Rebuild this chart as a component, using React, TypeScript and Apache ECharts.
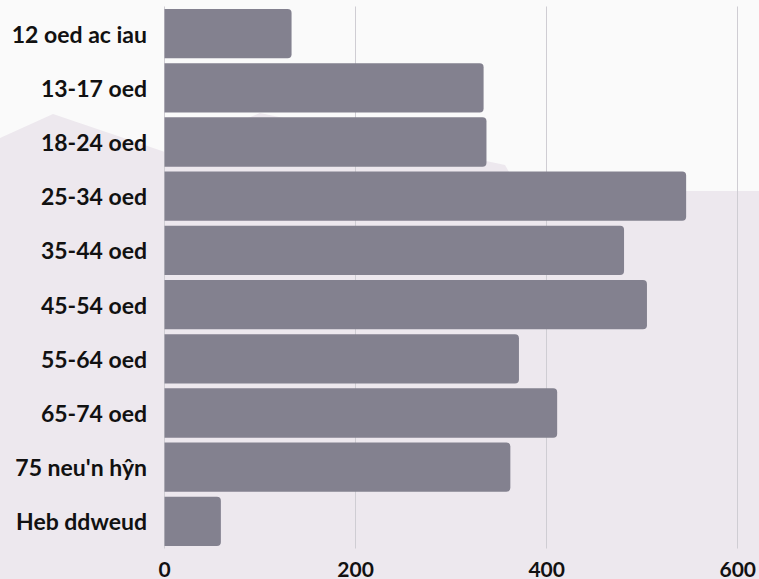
import React, { useEffect, useRef } from "react";
import * as echarts from "echarts";

const categories = [
  "12 oed ac iau",
  "13-17 oed",
  "18-24 oed",
  "25-34 oed",
  "35-44 oed",
  "45-54 oed",
  "55-64 oed",
  "65-74 oed",
  "75 neu'n hŷn",
  "Heb ddweud",
];
const values = [133, 334, 337, 546, 481, 505, 371, 411, 362, 59];
const xTicks = [0, 200, 400, 600];

export default function App() {
  const ref = useRef<HTMLDivElement>(null);
  useEffect(() => {
    if (!ref.current) return;
    const chart = echarts.init(ref.current, null, { renderer: "svg" });
    const font = "Lato, 'Noto Sans', sans-serif";
    chart.setOption({
      animation: false,
      backgroundColor: "#fafafa",
      graphic: [
        {
          type: "polygon",
          z: -10,
          silent: true,
          shape: {
            points: [
              [0, 138],
              [53, 114],
              [165, 152],
              [260, 113],
              [505, 165],
              [520, 191],
              [759, 191],
              [759, 579],
              [0, 579],
            ],
          },
          style: { fill: "#ede8ee" },
        },
      ],
      grid: { left: 164.5, right: 21, top: 6.5, height: 542, containLabel: false },
      xAxis: {
        type: "value",
        min: xTicks[0],
        max: xTicks[xTicks.length - 1],
        interval: 200,
        axisLine: { show: false },
        axisTick: { show: false },
        splitLine: { show: true, lineStyle: { color: "#cfcdd3", width: 1 } },
        axisLabel: {
          color: "#111111",
          fontFamily: font,
          fontWeight: "bold",
          fontSize: 21,
          lineHeight: 21,
          margin: 9,
        },
      },
      yAxis: {
        type: "category",
        data: categories,
        inverse: true,
        axisLine: { show: false },
        axisTick: { show: false },
        axisLabel: {
          color: "#111111",
          fontFamily: font,
          fontWeight: "bold",
          fontSize: 23,
          margin: 17.5,
        },
      },
      series: [
        {
          type: "bar",
          data: values,
          barCategoryGap: "9%",
          itemStyle: { color: "#83818f", borderRadius: [0, 4, 4, 0] },
        },
      ],
    });
    return () => chart.dispose();
  }, []);
  return (
    <div
      ref={ref}
      style={{ position: "fixed", left: 0, top: 0, width: 759, height: 579 }}
    />
  );
}
